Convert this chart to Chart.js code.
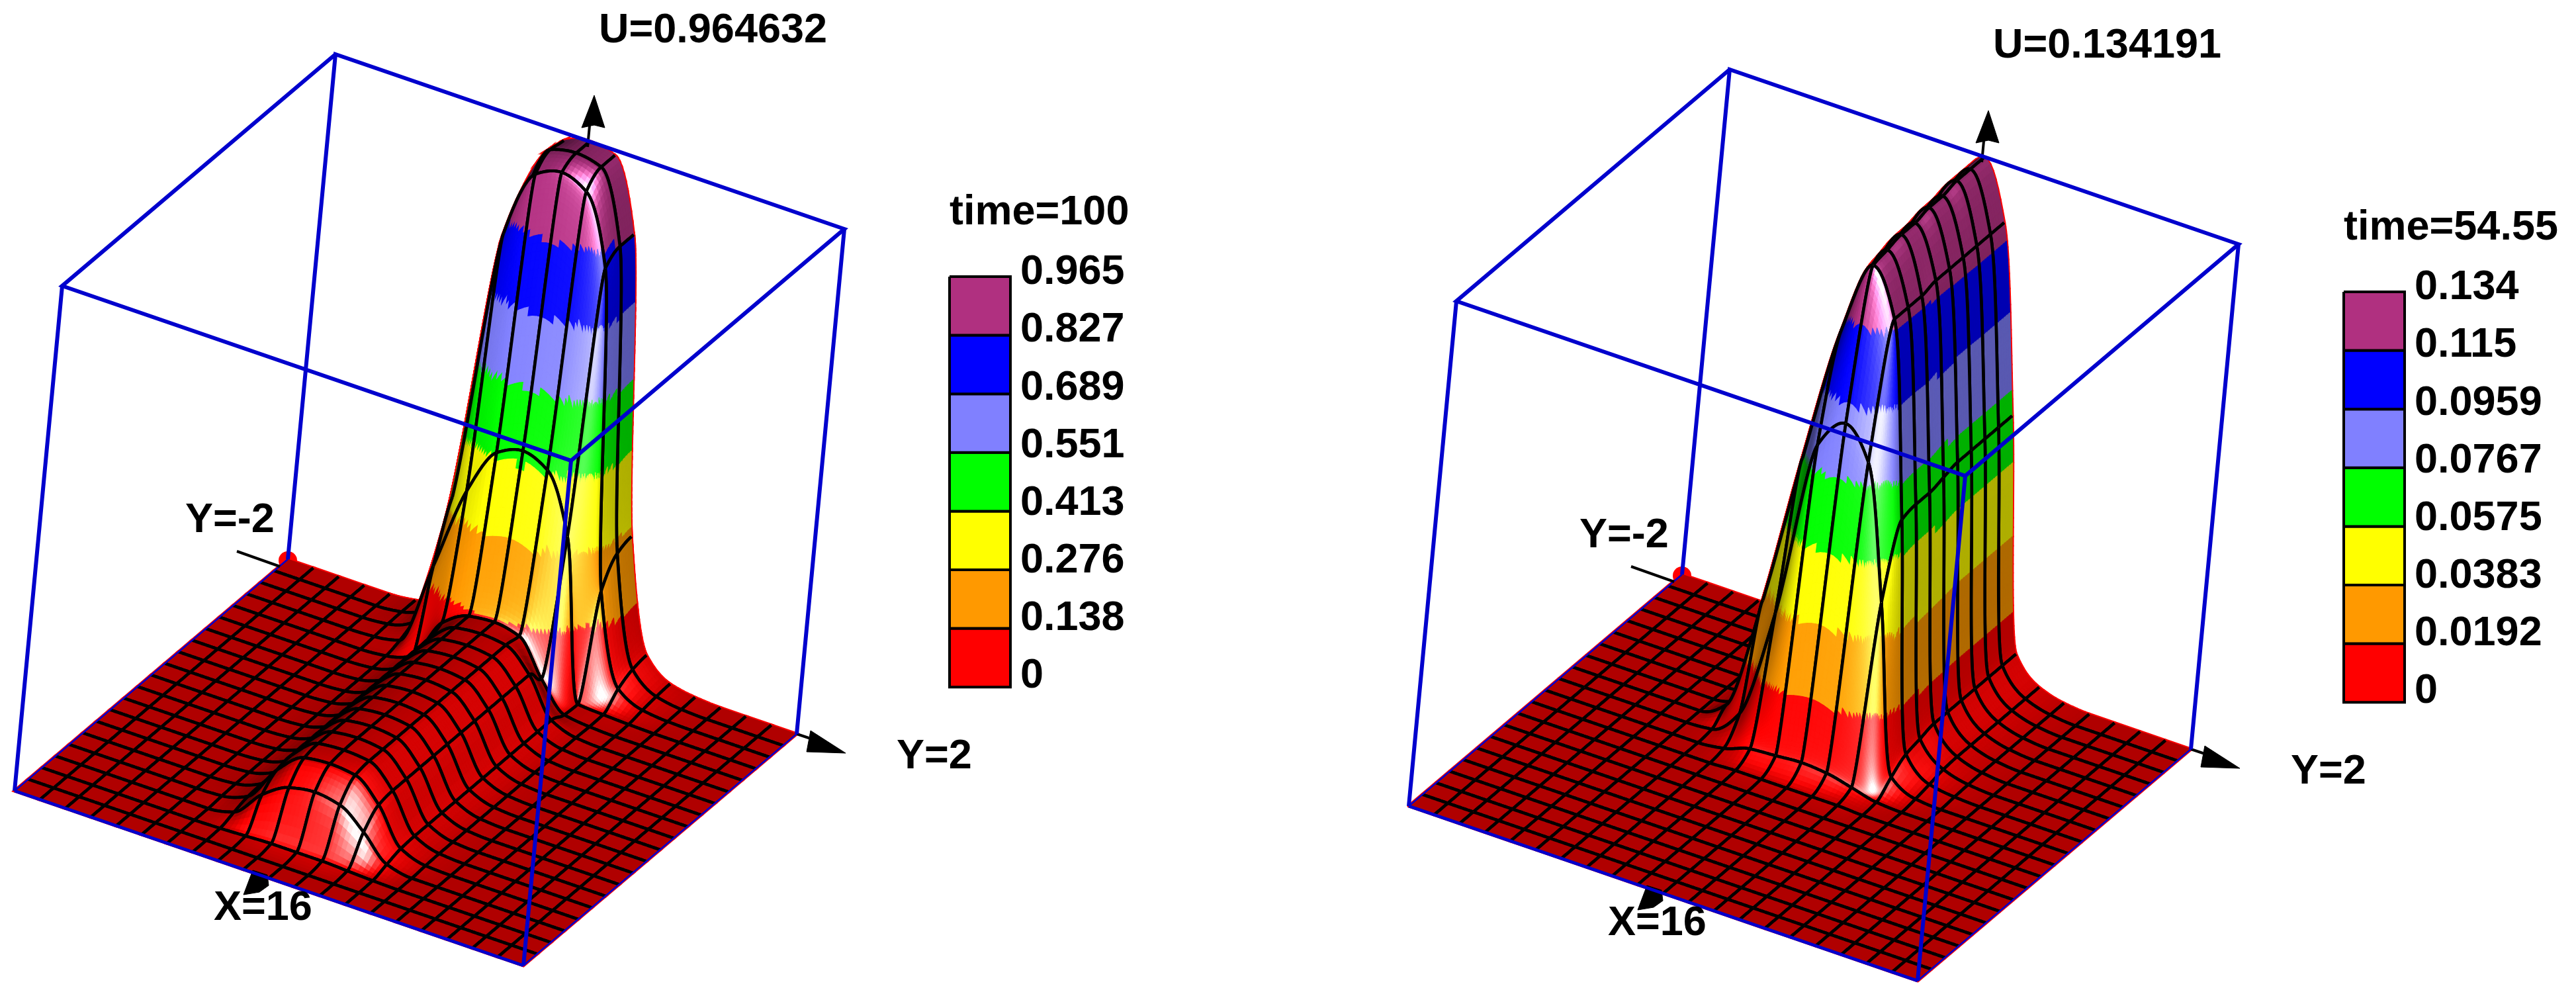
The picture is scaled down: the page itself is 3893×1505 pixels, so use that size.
<!DOCTYPE html>
<html>
<head>
<meta charset="utf-8">
<title>U surfaces</title>
<script src="https://cdn.jsdelivr.net/npm/chart.js@4"></script>
<style>
  html, body { margin: 0; background: #fff; }
  canvas { display: block; }
</style>
</head>
<body>
<canvas id="surfaces" width="3893" height="1505"></canvas>
<script>
// U on the 21x21 mesh, row = X line (back to front), column = Y line (-2 to 2)
const uTime100 = [
  [0,0,0,0,0,.005,.03,.30,.82,.95,.965,.955,.82,.26,.05,.012,.003,0,0,0,0],
  [0,0,0,0,0,.005,.03,.32,.81,.955,.965,.955,.82,.25,.045,.01,.002,0,0,0,0],
  [0,0,0,0,0,.004,.025,.28,.80,.93,.95,.93,.80,.20,.03,.006,.001,0,0,0,0],
  [0,0,0,0,0,.002,.012,.17,.33,.42,.44,.42,.31,.006,.003,.001,0,0,0,0,0],
  [0,0,0,0,0,0,.004,.02,.10,.13,.135,.125,.06,.008,.002,0,0,0,0,0,0],
  [0,0,0,0,0,0,.003,.02,.09,.13,.135,.13,.09,.02,.003,0,0,0,0,0,0],
  [0,0,0,0,0,0,.003,.02,.09,.13,.135,.13,.09,.02,.003,0,0,0,0,0,0],
  [0,0,0,0,0,0,.003,.02,.09,.13,.135,.13,.09,.02,.003,0,0,0,0,0,0],
  [0,0,0,0,0,0,.003,.02,.09,.13,.135,.13,.09,.02,.003,0,0,0,0,0,0],
  [0,0,0,0,0,0,.003,.02,.09,.13,.135,.13,.09,.02,.003,0,0,0,0,0,0],
  [0,0,0,0,0,0,.003,.02,.09,.13,.135,.13,.09,.02,.003,0,0,0,0,0,0],
  [0,0,0,0,0,0,.003,.02,.09,.13,.135,.13,.09,.02,.003,0,0,0,0,0,0],
  [0,0,0,0,0,0,.003,.02,.09,.13,.135,.13,.09,.02,.003,0,0,0,0,0,0],
  [0,0,0,0,0,0,.003,.02,.09,.13,.135,.13,.09,.02,.003,0,0,0,0,0,0],
  [0,0,0,0,0,0,.003,.02,.09,.13,.135,.13,.09,.02,.003,0,0,0,0,0,0],
  [0,0,0,0,0,0,.003,.02,.09,.13,.134,.13,.09,.02,.003,0,0,0,0,0,0],
  [0,0,0,0,0,0,.002,.018,.085,.125,.13,.125,.085,.018,.002,0,0,0,0,0,0],
  [0,0,0,0,0,0,0,.01,.06,.09,.098,.09,.055,.01,0,0,0,0,0,0,0],
  [0,0,0,0,0,0,0,.001,.003,.005,.005,.005,.003,.001,0,0,0,0,0,0,0],
  [0,0,0,0,0,0,0,0,0,0,0,0,0,0,0,0,0,0,0,0,0],
  [0,0,0,0,0,0,0,0,0,0,0,0,0,0,0,0,0,0,0,0,0],
];

const uTime5455 = [
  [0,0,0,0,0,0,.001,.026,.074,.122,.134,.119,.070,.009,.0025,.0006,0,0,0,0,0],
  [0,0,0,0,0,0,.001,.026,.074,.122,.134,.119,.070,.009,.0025,.0006,0,0,0,0,0],
  [0,0,0,0,0,0,.001,.026,.074,.122,.134,.119,.070,.009,.0025,.0006,0,0,0,0,0],
  [0,0,0,0,0,0,.001,.027,.074,.121,.133,.119,.070,.009,.0025,.0006,0,0,0,0,0],
  [0,0,0,0,0,0,.002,.028,.074,.120,.133,.119,.070,.009,.0025,.0006,0,0,0,0,0],
  [0,0,0,0,0,0,.002,.029,.074,.119,.132,.119,.069,.009,.0025,.0006,0,0,0,0,0],
  [0,0,0,0,0,0,.002,.030,.074,.118,.132,.118,.068,.009,.0025,.0006,0,0,0,0,0],
  [0,0,0,0,0,0,.002,.032,.074,.115,.131,.118,.068,.008,.0022,.0005,0,0,0,0,0],
  [0,0,0,0,0,0,.004,.034,.074,.110,.130,.118,.067,.007,.0013,.0003,0,0,0,0,0],
  [0,0,0,0,0,0,.0005,.007,.036,.083,.091,.083,.048,.004,.0005,0,0,0,0,0,0],
  [0,0,0,0,0,0,0,.0008,.003,.0035,.004,.0035,.002,.0004,0,0,0,0,0,0,0],
  [0,0,0,0,0,0,0,0,.0003,.0003,.0003,.0003,.0003,0,0,0,0,0,0,0,0],
  [0,0,0,0,0,0,0,0,0,0,0,0,0,0,0,0,0,0,0,0,0],
  [0,0,0,0,0,0,0,0,0,0,0,0,0,0,0,0,0,0,0,0,0],
  [0,0,0,0,0,0,0,0,0,0,0,0,0,0,0,0,0,0,0,0,0],
  [0,0,0,0,0,0,0,0,0,0,0,0,0,0,0,0,0,0,0,0,0],
  [0,0,0,0,0,0,0,0,0,0,0,0,0,0,0,0,0,0,0,0,0],
  [0,0,0,0,0,0,0,0,0,0,0,0,0,0,0,0,0,0,0,0,0],
  [0,0,0,0,0,0,0,0,0,0,0,0,0,0,0,0,0,0,0,0,0],
  [0,0,0,0,0,0,0,0,0,0,0,0,0,0,0,0,0,0,0,0,0],
  [0,0,0,0,0,0,0,0,0,0,0,0,0,0,0,0,0,0,0,0,0],
];

const legendTime100 = ["0.965", "0.827", "0.689", "0.551", "0.413", "0.276", "0.138", "0"];
const legendTime5455 = ["0.134", "0.115", "0.0959", "0.0767", "0.0575", "0.0383", "0.0192", "0"];
const titles = ["U=0.964632", "U=0.134191"];
const times = ["time=100", "time=54.55"];
const uMax = [0.964632, 0.134191];

// band colours, top of the legend first
const bandColors = ["#b03080", "#0000ff", "#8080ff", "#00ff00", "#ffff00", "#ff9900", "#ff0000"];
const bandRgb = [[255, 0, 0], [255, 153, 0], [255, 255, 0], [0, 255, 0], [128, 128, 255], [0, 0, 255], [176, 48, 128]];

const BLUE = "#0000cd";
const FONT = 'bold 63px "Liberation Sans", Arial, sans-serif';
const CELLS = 20;

// screen layout of the left panel, the right one is just shifted
const panelShift = [[0, 0], [2107, 23]];
const base = { x: 435, y: 845 };
const sAxis = { x: -413, y: 350 };
const tAxis = { x: 769, y: 264 };
const hAxis = { x: 72, y: -763 };

function project(panel, s, t, f) {
  return {
    x: panelShift[panel][0] + base.x + s * sAxis.x + t * tAxis.x + f * hAxis.x,
    y: panelShift[panel][1] + base.y + s * sAxis.y + t * tAxis.y + f * hAxis.y,
  };
}

function shifted(panel, pts) {
  return pts.map(([x, y]) => ({ x: x + panelShift[panel][0], y: y + panelShift[panel][1] }));
}

// monotone hermite through 4 neighbours, keeps the steep walls from overshooting
function tangent(a, b) {
  if (a * b <= 0) return 0;
  return (2 * a * b) / (a + b);
}

function hermite(p0, p1, p2, p3, u) {
  const d0 = p1 - p0;
  const d1 = p2 - p1;
  const d2 = p3 - p2;
  const m1 = tangent(d0, d1);
  const m2 = tangent(d1, d2);
  const u2 = u * u;
  const u3 = u2 * u;
  return (2 * u3 - 3 * u2 + 1) * p1 + (u3 - 2 * u2 + u) * m1 + (-2 * u3 + 3 * u2) * p2 + (u3 - u2) * m2;
}

function clampIdx(k) {
  return Math.max(0, Math.min(CELLS, k));
}

// a, b are mesh coordinates, result is U/Umax
function heightAt(grid, a, b) {
  const i = Math.min(CELLS - 1, Math.floor(a));
  const j = Math.min(CELLS - 1, Math.floor(b));
  const u = a - i;
  const v = b - j;
  const vals = [];
  for (let r = i - 1; r <= i + 2; r++) {
    const row = grid[clampIdx(r)];
    vals.push(hermite(row[clampIdx(j - 1)], row[j], row[j + 1], row[clampIdx(j + 2)], v));
  }
  return hermite(vals[0], vals[1], vals[2], vals[3], u);
}

function shadeColor(grid, a, b, f) {
  const e = 0.04;
  const fa = (heightAt(grid, Math.min(CELLS, a + e), b) - heightAt(grid, Math.max(0, a - e), b)) / (2 * e / CELLS);
  const fb = (heightAt(grid, a, Math.min(CELLS, b + e)) - heightAt(grid, a, Math.max(0, b - e))) / (2 * e / CELLS);
  const len = Math.sqrt(fa * fa + fb * fb + 1);
  const ns = -fa / len;
  const nt = -fb / len;
  const nz = 1 / len;
  const diffuse = Math.min(1, Math.max(0.25, 0.3 + 0.7 * ns + 0.35 * nt + 0.39 * nz));
  const h = Math.max(0, 0.72 * ns + 0.5 * nt + 0.48 * nz);
  const spec = 1.1 * Math.pow(h, 12);
  const band = bandRgb[Math.max(0, Math.min(6, Math.floor(f * 7)))];
  const c = band.map((v) => Math.round(Math.min(255, v * diffuse + 255 * spec)));
  return `rgb(${c[0]},${c[1]},${c[2]})`;
}

function drawCellFill(ctx, chart, panel, grid, i, j, outline) {
  const { x: xs, y: ys } = chart.scales;
  const corners = [grid[i][j], grid[i + 1][j], grid[i][j + 1], grid[i + 1][j + 1]];
  const dA = Math.max(Math.abs(corners[0] - corners[1]), Math.abs(corners[2] - corners[3]));
  const dB = Math.max(Math.abs(corners[0] - corners[2]), Math.abs(corners[1] - corners[3]));
  const active = Math.max(...corners) > 0.0005;
  const nu = active ? Math.min(44, Math.max(6, Math.ceil(dA * 70))) : 1;
  const nv = active ? Math.min(44, Math.max(6, Math.ceil(dB * 70))) : 1;
  const pts = [];
  const hs = [];
  for (let p = 0; p <= nu; p++) {
    pts.push([]);
    hs.push([]);
    for (let q = 0; q <= nv; q++) {
      const a = i + p / nu;
      const b = j + q / nv;
      const f = heightAt(grid, a, b);
      const pos = project(panel, a / CELLS, b / CELLS, f);
      pts[p].push([xs.getPixelForValue(pos.x), ys.getPixelForValue(pos.y)]);
      hs[p].push(f);
    }
  }
  for (let p = 0; p < nu; p++) {
    for (let q = 0; q < nv; q++) {
      const a = i + (p + 0.5) / nu;
      const b = j + (q + 0.5) / nv;
      const f = (hs[p][q] + hs[p + 1][q] + hs[p][q + 1] + hs[p + 1][q + 1]) / 4;
      const color = outline ? "#ff0000" : shadeColor(grid, a, b, f);
      ctx.fillStyle = color;
      ctx.strokeStyle = color;
      ctx.lineWidth = outline ? 5 : 1.2;
      ctx.beginPath();
      ctx.moveTo(pts[p][q][0], pts[p][q][1]);
      ctx.lineTo(pts[p + 1][q][0], pts[p + 1][q][1]);
      ctx.lineTo(pts[p + 1][q + 1][0], pts[p + 1][q + 1][1]);
      ctx.lineTo(pts[p][q + 1][0], pts[p][q + 1][1]);
      ctx.closePath();
      ctx.fill();
      ctx.stroke();
    }
  }
}

function strokeMeshEdge(ctx, chart, panel, grid, a0, b0, a1, b1) {
  const { x: xs, y: ys } = chart.scales;
  const steps = 24;
  ctx.beginPath();
  for (let k = 0; k <= steps; k++) {
    const a = a0 + ((a1 - a0) * k) / steps;
    const b = b0 + ((b1 - b0) * k) / steps;
    const pos = project(panel, a / CELLS, b / CELLS, heightAt(grid, a, b));
    const px = xs.getPixelForValue(pos.x);
    const py = ys.getPixelForValue(pos.y);
    if (k === 0) ctx.moveTo(px, py);
    else ctx.lineTo(px, py);
  }
  ctx.stroke();
}

const surfacePlugin = {
  id: "surface",
  beforeDatasetsDraw(chart) {
    const ctx = chart.ctx;
    const { x: xs, y: ys } = chart.scales;
    [uTime100, uTime5455].forEach((rows, panel) => {
      const grid = rows.map((row) => row.map((v) => v / uMax[panel]));
      // red dot behind the far corner
      const far = project(panel, 0, 0, 0);
      ctx.fillStyle = "#ff0000";
      ctx.beginPath();
      ctx.arc(xs.getPixelForValue(far.x), ys.getPixelForValue(far.y + 2), 14, 0, Math.PI * 2);
      ctx.fill();
      // red rim first, it only survives along the silhouette
      for (let i = 0; i < CELLS; i++) {
        for (let j = 0; j < CELLS; j++) drawCellFill(ctx, chart, panel, grid, i, j, true);
      }
      ctx.lineJoin = "round";
      for (let i = 0; i < CELLS; i++) {
        for (let j = 0; j < CELLS; j++) {
          drawCellFill(ctx, chart, panel, grid, i, j, false);
          ctx.strokeStyle = "#000";
          ctx.lineWidth = 4.6;
          if (i > 0) strokeMeshEdge(ctx, chart, panel, grid, i, j, i, j + 1);
          if (i + 1 < CELLS) strokeMeshEdge(ctx, chart, panel, grid, i + 1, j, i + 1, j + 1);
          if (j > 0) strokeMeshEdge(ctx, chart, panel, grid, i, j, i + 1, j);
          if (j + 1 < CELLS) strokeMeshEdge(ctx, chart, panel, grid, i, j + 1, i + 1, j + 1);
        }
      }
    });
  },
  afterDatasetsDraw(chart) {
    const ctx = chart.ctx;
    const { x: xs, y: ys } = chart.scales;
    const put = (panel, text, x, y) => {
      ctx.fillText(text, xs.getPixelForValue(x + panelShift[panel][0]), ys.getPixelForValue(y + panelShift[panel][1]));
    };
    ctx.fillStyle = "#000";
    ctx.font = FONT;
    ctx.textBaseline = "middle";
    ctx.textAlign = "left";
    [legendTime100, legendTime5455].forEach((labels, panel) => {
      put(panel, titles[panel], 905, 47);
      put(panel, times[panel], 1435, 322);
      put(panel, "Y=-2", 280, 787);
      put(panel, "Y=2", 1355, 1144);
      put(panel, "X=16", 323, 1373);
      labels.forEach((label, k) => put(panel, label, 1542, 412 + k * 87.1));
    });
  },
};

function lineSet(points, color, width) {
  return {
    data: points,
    showLine: true,
    borderColor: color,
    borderWidth: width,
    pointRadius: 0,
    fill: false,
    tension: 0,
  };
}

function shapeSet(points, fillColor, borderColor, width) {
  return {
    data: points,
    showLine: true,
    borderColor,
    borderWidth: width,
    backgroundColor: fillColor,
    pointRadius: 0,
    fill: "shape",
    tension: 0,
  };
}

const datasets = [];
[0, 1].forEach((panel) => {
  const c = (s, t, f) => project(panel, s, t, f);
  // small tick by Y=-2
  datasets.push(lineSet(shifted(panel, [[358, 833], [423, 856]]), "#000", 4));
  // box
  datasets.push(lineSet([c(0, 0, 0), c(0, 0, 1), c(0, 1, 1), c(1, 1, 1), c(1, 0, 1), c(0, 0, 1)], BLUE, 6));
  datasets.push(lineSet([c(1, 0, 0), c(1, 0, 1)], BLUE, 6));
  datasets.push(lineSet([c(1, 1, 0), c(1, 1, 1)], BLUE, 6));
  datasets.push(lineSet([c(0, 1, 0), c(0, 1, 1)], BLUE, 6));
  datasets.push(lineSet([c(1, 0, 0), c(1, 1, 0)], BLUE, 5));
  datasets.push(lineSet([c(1, 1, 0), c(0, 1, 0)], BLUE, 2.5));
  datasets.push(lineSet([c(1, 0, 0), c(0, 0, 0)], BLUE, 2.5));
  // axis arrows
  datasets.push(lineSet(shifted(panel, [[891, 190], [888, 222]]), "#000", 4));
  datasets.push(shapeSet(shifted(panel, [[898, 144], [914, 193], [898, 189], [879, 193], [898, 144]]), "#000", "#000", 1));
  datasets.push(lineSet(shifted(panel, [[1204, 1109], [1225, 1116]]), "#000", 4));
  datasets.push(shapeSet(shifted(panel, [[1225, 1104], [1278, 1138], [1219, 1136], [1225, 1104]]), "#000", "#000", 1));
  datasets.push(shapeSet(shifted(panel, [[382, 1315], [404, 1322], [406, 1338], [392, 1348], [368, 1352], [382, 1315]]), "#000", "#000", 1));
  // colour bar
  const barLeft = 1435;
  const barRight = 1527;
  const barTop = 418;
  const step = 88.6;
  bandColors.forEach((color, k) => {
    const y0 = barTop + k * step;
    const y1 = y0 + step;
    datasets.push(shapeSet(shifted(panel, [[barLeft, y0], [barRight, y0], [barRight, y1], [barLeft, y1], [barLeft, y0]]), color, "#000", 4));
  });
});

new Chart(document.getElementById("surfaces"), {
  type: "scatter",
  data: { datasets },
  options: {
    responsive: false,
    devicePixelRatio: 1,
    animation: false,
    events: [],
    layout: { padding: 0 },
    plugins: { legend: { display: false }, tooltip: { enabled: false } },
    scales: {
      x: { type: "linear", min: 0, max: 3893, display: false },
      y: { type: "linear", min: 0, max: 1505, reverse: true, display: false },
    },
  },
  plugins: [surfacePlugin],
});
</script>
</body>
</html>
